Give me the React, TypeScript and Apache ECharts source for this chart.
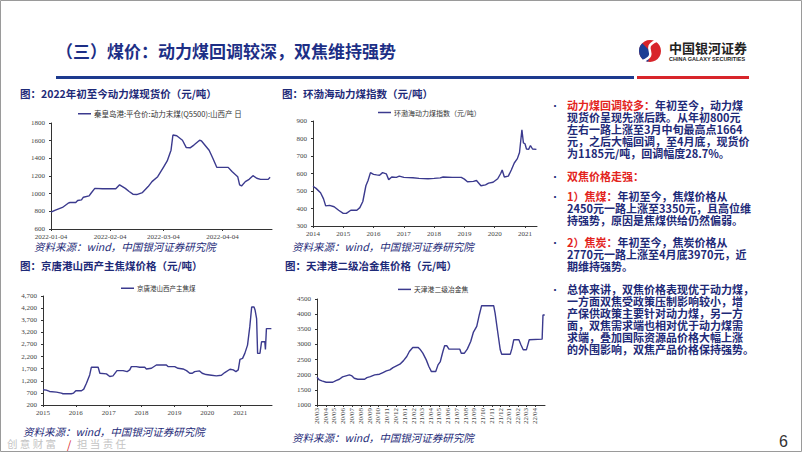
import React, { useEffect, useRef } from 'react';
import * as echarts from 'echarts';

// ---------- data ----------
const spotDates = ['2022-01-04','2022-01-06','2022-01-10','2022-01-13','2022-01-14','2022-01-17','2022-01-18','2022-01-20','2022-01-21','2022-01-24','2022-01-25','2022-01-27','2022-01-31','2022-02-07','2022-02-09','2022-02-12','2022-02-14','2022-02-16','2022-02-18','2022-02-21','2022-02-24','2022-02-26','2022-03-01','2022-03-04','2022-03-06','2022-03-08','2022-03-09','2022-03-11','2022-03-14','2022-03-16','2022-03-18','2022-03-20','2022-03-23','2022-03-24','2022-03-28','2022-03-30','2022-04-01','2022-04-07','2022-04-09','2022-04-12','2022-04-13','2022-04-14','2022-04-16','2022-04-18','2022-04-20','2022-04-22','2022-04-24','2022-04-28','2022-04-29'];
const spotValues = [790,810,844,892,900,900,922,930,960,975,1005,1060,1055,1055,1100,1060,1024,994,990,1012,1080,1136,1192,1298,1370,1492,1664,1655,1605,1522,1519,1550,1605,1597,1492,1399,1298,1298,1250,1192,1099,1087,1136,1162,1204,1174,1162,1162,1185];

const bsDates = ['2014-01-01','2014-02-07','2014-04-02','2014-05-08','2014-06-03','2014-07-20','2014-09-13','2014-11-06','2015-01-01','2015-02-07','2015-04-02','2015-06-14','2015-07-20','2015-08-25','2015-10-01','2015-10-27','2015-11-25','2016-01-01','2016-02-07','2016-03-14','2016-04-19','2016-06-03','2016-07-02','2016-08-08','2016-10-02','2016-11-07','2017-01-01','2017-04-20','2017-07-02','2017-10-20','2018-01-01','2018-03-15','2018-04-20','2018-08-08','2018-11-25','2019-01-01','2019-02-07','2019-04-20','2019-05-27','2019-07-20','2019-09-13','2019-10-20','2019-12-13','2020-02-07','2020-03-14','2020-04-01','2020-04-27','2020-06-14','2020-07-20','2020-08-25','2020-10-01','2020-10-27','2020-11-25','2020-12-13','2021-01-01','2021-01-19','2021-02-14','2021-03-08','2021-04-02','2021-05-19'];
const bsValues = [527,515,490,455,415,418,410,390,372,372,390,390,405,440,530,560,605,595,592,590,605,598,565,580,578,585,578,576,572,570,572,575,580,578,578,568,553,555,560,530,535,545,550,570,600,620,580,585,620,660,685,720,850,775,770,740,738,760,740,738];

const cokingCoalDates = ['2015-01-01','2015-02-07','2015-03-15','2015-05-30','2015-07-24','2015-08-11','2015-11-11','2015-12-07','2016-01-01','2016-03-04','2016-03-29','2016-04-28','2016-06-03','2016-06-21','2016-09-05','2016-09-24','2016-12-06','2017-01-12','2017-02-17','2017-04-02','2017-06-09','2017-07-24','2017-08-22','2017-09-09','2017-11-03','2017-12-10','2018-02-05','2018-02-23','2018-04-20','2018-06-14','2018-10-03','2018-10-21','2019-01-04','2019-02-10','2019-04-06','2019-05-15','2019-06-20','2019-07-19','2019-08-13','2019-10-07','2019-11-05','2019-12-19','2020-02-16','2020-04-11','2020-06-06','2020-07-13','2020-09-09','2020-10-16','2020-11-14','2020-12-10','2020-12-29','2021-01-27','2021-02-21','2021-03-23','2021-04-17','2021-05-08','2021-06-03','2021-06-14','2021-07-02','2021-07-13','2021-08-08','2021-08-26','2021-10-01','2021-10-08','2021-10-19','2021-12-13'];
const cokingCoalValues = [828,815,760,733,692,664,664,692,787,787,856,1100,1443,1757,1757,1511,1484,1375,1402,1620,1620,1580,1648,1785,1785,1757,1757,1689,1716,1853,1853,1785,1785,1716,1689,1620,1511,1511,1580,1607,1511,1457,1430,1402,1430,1539,1675,1648,1580,1648,2085,2126,2331,2673,3424,4243,4243,4134,3765,2331,2331,2809,2809,2495,3355,3355];

const cokeDates = ['2020-03-01','2020-03-09','2020-03-18','2020-04-02','2020-04-25','2020-05-06','2020-05-18','2020-05-29','2020-06-10','2020-06-22','2020-07-01','2020-07-09','2020-07-21','2020-08-14','2020-08-22','2020-09-03','2020-09-18','2020-10-05','2020-10-17','2020-10-29','2020-11-10','2020-11-21','2020-12-03','2020-12-15','2020-12-27','2021-01-08','2021-01-17','2021-01-29','2021-02-17','2021-02-23','2021-03-05','2021-03-17','2021-03-26','2021-04-04','2021-04-19','2021-04-27','2021-05-05','2021-05-14','2021-05-20','2021-05-28','2021-06-04','2021-07-12','2021-07-17','2021-07-28','2021-08-07','2021-08-19','2021-08-28','2021-09-09','2021-09-18','2021-09-26','2021-11-07','2021-11-12','2021-11-20','2021-11-30','2021-12-05','2022-01-04','2022-01-10','2022-01-16','2022-02-03','2022-02-10','2022-02-18','2022-03-01','2022-03-06','2022-03-11','2022-04-25','2022-04-28','2022-05-04'];
const cokeValues = [1916,1828,1795,1751,1751,1806,1850,1927,1960,1993,1960,1883,1850,1850,1905,1938,1993,2016,2071,2126,2159,2236,2292,2347,2457,2601,2766,2899,2899,2844,2711,2490,2270,2104,2104,2325,2435,2766,2954,2954,2844,2844,2711,2711,2844,3098,3396,3594,3981,4279,4279,4036,3484,2822,2678,2678,2877,3153,3153,2987,2822,2822,2987,3153,3175,3970,3970];

const spotTicks = ['2022-01-04','2022-02-04','2022-03-04','2022-04-04'];
const bsTicks = ['2014','2015','2016','2017','2018','2019','2020','2021'];
const ccTicks = ['2015','2016','2017','2018','2019','2020','2021'];
const cokeTicks = ['2020-03','2020-04','2020-05','2020-06','2020-07','2020-08','2020-09','2020-10','2020-11','2020-12','2021-01','2021-02','2021-03','2021-04','2021-05','2021-06','2021-07','2021-08','2021-09','2021-10','2021-11','2021-12','2022-01','2022-02','2022-03','2022-04'];
const ccYTicks = [200,700,1200,1700,2200,2700,3200,3700,4200,4700];

const seriesNames = ['秦皇岛港:平仓价:动力末煤(Q5500):山西产 日', '环渤海动力煤指数（元/吨）', '京唐港山西产主焦煤', '天津港二级冶金焦'];
const chartTitles = ['图：2022年初至今动力煤现货价（元/吨）', '图：环渤海动力煤指数（元/吨）', '图：京唐港山西产主焦煤价格（元/吨）', '图：天津港二级冶金焦价格（元/吨）'];
const sourceText = '资料来源：wind，中国银河证券研究院';
const slideTitle = '（三）煤价：动力煤回调较深，双焦维持强势';

const LINE = '#3b3a8e';
const NAVY = '#1e2a78';
const RED = '#e3241d';
const CJK = '"Noto Sans CJK SC", "Noto Sans", sans-serif';
const SERIF = '"Liberation Serif", "DejaVu Serif", serif';

const ts = (s: string) => {
  const full = s.length === 4 ? s + '-01-01' : s.length === 7 ? s + '-01' : s;
  const [y, m, d] = full.split('-').map(Number);
  return Date.UTC(y, m - 1, d);
};
const pairs = (d: string[], v: number[]) => d.map((x, i) => [ts(x), v[i]]);
const pad2 = (n: number) => (n < 10 ? '0' : '') + n;

export default function App() {
  const ref = useRef<HTMLDivElement>(null);
  useEffect(() => {
    if (!ref.current) return;
    const chart = echarts.init(ref.current, undefined, { renderer: 'svg' });
    const axisLine = { lineStyle: { color: '#333', width: 1 } };
    const labelBase = { fontFamily: SERIF, fontSize: 7, color: '#444' };
    const plain = (v: number) => String(v);
    const yAxisBase = (i: number, min: number, max: number, extra: any = {}) => ({
      gridIndex: i, type: 'value', min, max,
      splitLine: { show: false },
      axisLine: { show: true, ...axisLine },
      axisTick: { show: true, length: 2, lineStyle: { color: '#333' }, ...(extra.tick || {}) },
      axisLabel: { ...labelBase, margin: 6, formatter: plain, ...(extra.label || {}) },
      ...(extra.interval ? { interval: extra.interval } : {}),
    });
    const xAxisBase = (i: number, min: string, max: string, ticks: string[], fmt: (v: number) => string, extraLabel: any = {}) => ({
      gridIndex: i, type: 'value', min: ts(min), max: ts(max),
      splitLine: { show: false },
      axisLine: axisLine,
      axisTick: { show: true, length: 2, lineStyle: { color: '#333' }, customValues: ticks.map(ts) },
      axisLabel: { ...labelBase, margin: 4, customValues: ticks.map(ts), formatter: fmt, hideOverlap: false, ...extraLabel },
    });
    const fmtDay = (v: number) => { const d = new Date(v); return `${d.getUTCFullYear()}-${pad2(d.getUTCMonth() + 1)}-${pad2(d.getUTCDate())}`; };
    const fmtYear = (v: number) => String(new Date(v).getUTCFullYear());
    const fmtYM = (v: number) => { const d = new Date(v); return `${String(d.getUTCFullYear()).slice(2)}/${pad2(d.getUTCMonth() + 1)}`; };

    const legendBase = (name: string, left: number, top: number, fontSize: number) => ({
      data: [name], left, top, icon: 'rect', itemWidth: 13, itemHeight: 1.5, itemGap: 4,
      textStyle: { fontFamily: CJK, fontSize, color: '#333', padding: [0, 0, 0, -2] },
      padding: 0,
    });

    const text = (x: number, y: number, t: string, style: any) => ({
      type: 'text', x, y, silent: true,
      style: { text: t, verticalAlign: 'middle', align: 'left', ...style },
    });

    const FS = 11;
    const body = { fill: NAVY, fontSize: FS, lineHeight: 11, fontWeight: 'bold', fontFamily: CJK };
    const rich = {
      r: { fill: RED, fontSize: FS, lineHeight: 11, fontWeight: 'bold', fontFamily: CJK },
      n: { fill: NAVY, fontSize: FS, lineHeight: 11, fontWeight: 'bold', fontFamily: CJK },
    };
    const bullet = (y: number) => text(550, y, '•', { fill: NAVY, fontSize: 10, fontFamily: CJK });

    const rightLines: [number, string][] = [
      [105, '{r|动力煤回调较多：}{n|年初至今，动力煤}'],
      [117, '{n|现货价呈现先涨后跌。从年初800元}'],
      [129, '{n|左右一路上涨至3月中旬最高点1664}'],
      [141, '{n|元，之后大幅回调，至4月底，现货价}'],
      [153, '{n|为1185元/吨，回调幅度28.7%。}'],
      [176, '{r|双焦价格走强：}'],
      [196, '{r|1）焦煤：}{n|年初至今，焦煤价格从}'],
      [208, '{n|2450元一路上涨至3350元，且高位维}'],
      [220, '{n|持强势，原因是焦煤供给仍然偏弱。}'],
      [242, '{r|2）焦炭：}{n|年初至今，焦炭价格从}'],
      [254, '{n|2770元一路上涨至4月底3970元，近}'],
      [266, '{n|期维持强势。}'],
      [289, '{n|总体来讲，双焦价格表现优于动力煤，}'],
      [301, '{n|一方面双焦受政策压制影响较小，增}'],
      [313, '{n|产保供政策主要针对动力煤，另一方}'],
      [325, '{n|面，双焦需求端也相对优于动力煤需}'],
      [337, '{n|求端，叠加国际资源品价格大幅上涨}'],
      [349, '{n|的外围影响，双焦产品价格保持强势。}'],
    ];

    const src = { fill: NAVY, fontSize: 10.5, lineHeight: 10.5, fontStyle: 'italic', fontFamily: CJK };
    const slogan = { fill: '#c4c4c4', fontSize: 10.5, lineHeight: 10.5, fontFamily: CJK };
    const graphics: any[] = [
      { type: 'rect', shape: { x: 0.5, y: 0.5, width: 801, height: 451 }, style: { fill: '#fff', stroke: '#9a9a9a', lineWidth: 1 }, silent: true, z: -10 },
      text(56, 50, slideTitle, { fill: '#1d2f86', fontSize: 17, fontWeight: 'bold', fontFamily: CJK }),
      { type: 'rect', shape: { x: 56, y: 76, width: 578, height: 3 }, style: { fill: '#1c3a8e' }, silent: true },
      { type: 'rect', shape: { x: 637, y: 76, width: 112, height: 3 }, style: { fill: '#d8252a' }, silent: true },
      { type: 'circle', shape: { cx: 650, cy: 51, r: 11 }, style: { fill: '#d8252a' }, silent: true },
      { type: 'sector', shape: { cx: 650, cy: 51, r: 11, r0: 0, startAngle: Math.PI * 0.55, endAngle: Math.PI * 1.25 }, style: { fill: '#1d3f94' }, silent: true },
      { type: 'bezierCurve', shape: { x1: 656, y1: 41, x2: 643, y2: 61, cpx1: 640, cpy1: 48, cpx2: 660, cpy2: 54 }, style: { stroke: '#fff', lineWidth: 2.5, fill: null }, silent: true },
      text(669, 47, '中国银河证券', { fill: '#222', fontSize: 13, fontWeight: 'bold', fontFamily: CJK }),
      text(669, 59, 'CHINA GALAXY SECURITIES', { fill: '#222', fontSize: 5.5, fontWeight: 'bold', fontFamily: '"Liberation Sans", sans-serif' }),
      text(20, 93, chartTitles[0], { fill: NAVY, fontSize: 10.5, fontWeight: 'bold', fontFamily: CJK }),
      text(282, 93, chartTitles[1], { fill: NAVY, fontSize: 10.5, fontWeight: 'bold', fontFamily: CJK }),
      text(20, 265, chartTitles[2], { fill: NAVY, fontSize: 10.5, fontWeight: 'bold', fontFamily: CJK }),
      text(285, 265, chartTitles[3], { fill: NAVY, fontSize: 10.5, fontWeight: 'bold', fontFamily: CJK }),
      text(34, 246.5, sourceText, src),
      text(292, 246.5, sourceText, src),
      text(7, 443.5, '创 意 财 富', slogan),
      text(67, 443.5, '/', { ...slogan, fill: '#d8252a', fontSize: 11 }),
      text(77, 443.5, '担 当 责 任', slogan),
      text(23, 431, sourceText, src),
      text(292, 437, sourceText, src),
      text(779, 441, '6', { fill: '#333', fontSize: 16, fontFamily: '"Liberation Sans", sans-serif' }),
      bullet(105), bullet(176), bullet(196), bullet(242), bullet(289),
      ...rightLines.map(([y, t]) => text(567, y, t, { ...body, rich })),
    ];

    const option: any = {
      animation: false,
      backgroundColor: 'transparent',
      graphic: graphics,
      legend: [
        legendBase(seriesNames[0], 78, 110, 7.5),
        legendBase(seriesNames[1], 378, 109, 7),
        legendBase(seriesNames[2], 121, 285, 6.5),
        legendBase(seriesNames[3], 398, 286, 6.8),
      ],
      grid: [
        { left: 51, top: 123, width: 221, height: 106 },
        { left: 313, top: 121, width: 224, height: 105 },
        { left: 43, top: 296, width: 229, height: 109 },
        { left: 317, top: 299, width: 228, height: 106 },
      ],
      xAxis: [
        xAxisBase(0, '2022-01-04', '2022-04-30', spotTicks, fmtDay),
        xAxisBase(1, '2014-01-01', '2021-05-26', bsTicks, fmtYear),
        xAxisBase(2, '2015-01-01', '2021-12-20', ccTicks, fmtYear),
        xAxisBase(3, '2020-03-01', '2022-05-05', cokeTicks, fmtYM, { rotate: 90, margin: 3 }),
      ],
      yAxis: [
        yAxisBase(0, 600, 1800, { interval: 200 }),
        yAxisBase(1, 300, 900, { interval: 100 }),
        yAxisBase(2, 200, 4700, {
          label: { customValues: ccYTicks, formatter: (v: number) => v.toLocaleString('en-US') },
          tick: { customValues: ccYTicks },
        }),
        yAxisBase(3, 1000, 4500, { interval: 500 }),
      ],
      series: [
        { name: seriesNames[0], type: 'line', xAxisIndex: 0, yAxisIndex: 0, data: pairs(spotDates, spotValues) },
        { name: seriesNames[1], type: 'line', xAxisIndex: 1, yAxisIndex: 1, data: pairs(bsDates, bsValues) },
        { name: seriesNames[2], type: 'line', xAxisIndex: 2, yAxisIndex: 2, data: pairs(cokingCoalDates, cokingCoalValues) },
        { name: seriesNames[3], type: 'line', xAxisIndex: 3, yAxisIndex: 3, data: pairs(cokeDates, cokeValues) },
      ].map((s) => ({ ...s, showSymbol: false, symbol: 'none', lineStyle: { color: LINE, width: 1.4 }, itemStyle: { color: LINE }, color: LINE })),
    };
    chart.setOption(option);
    return () => chart.dispose();
  }, []);
  return <div ref={ref} style={{ position: 'fixed', left: 0, top: 0, width: 802, height: 452, background: '#fff' }} />;
}
